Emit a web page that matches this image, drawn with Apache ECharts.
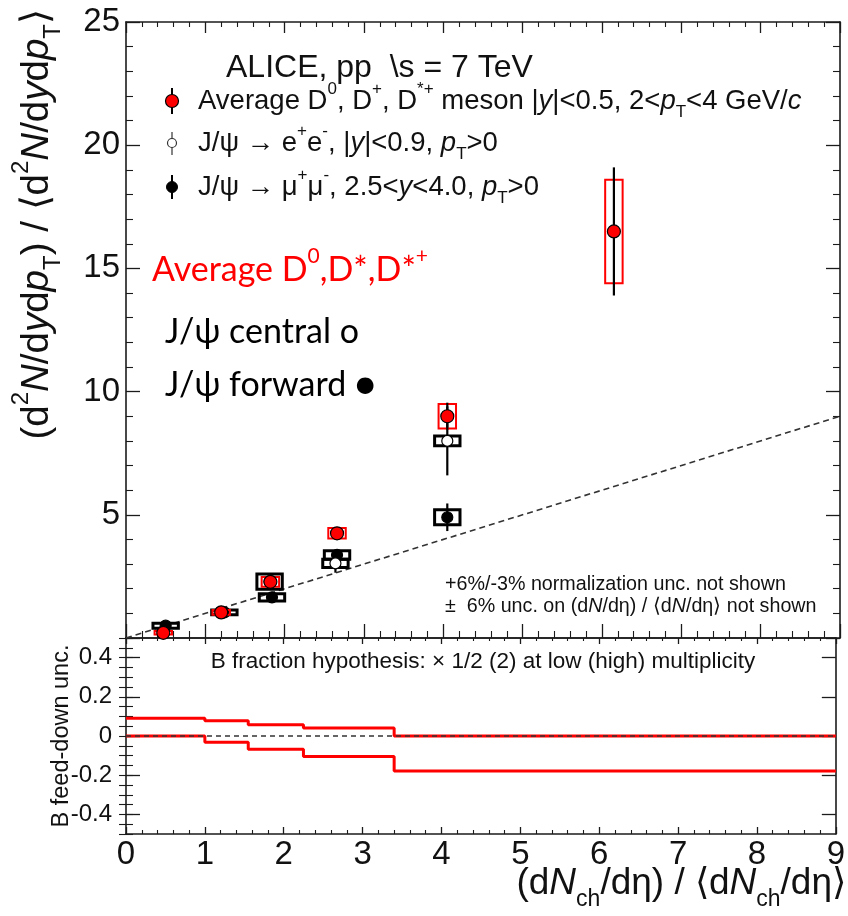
<!DOCTYPE html>
<html>
<head>
<meta charset="utf-8">
<script src="https://cdn.jsdelivr.net/npm/echarts@6/dist/echarts.min.js"></script>
<style>
  html, body { margin: 0; padding: 0; background: #fff; }
  #chart { width: 848px; height: 916px; }
</style>
</head>
<body>
<div id="chart"></div>
<script>
// ---- data: top panel (self-normalised yields vs multiplicity) ----
const dMesonX    = [0.47, 1.20, 1.82, 2.66, 4.05, 6.15];
const dMesonY    = [0.21, 1.04, 2.28, 4.25, 9.00, 16.5];
const dMesonStat = [0.05, 0.06, 0.10, 0.15, 0.55, 2.60];
const dMesonSyst = [0.07, 0.10, 0.20, 0.21, 0.50, 2.10];

const jpsiCentralX    = [1.81, 2.64, 4.05];
const jpsiCentralY    = [2.29, 3.03, 8.00];
const jpsiCentralStat = [0.25, 0.38, 1.40];
const jpsiCentralSyst = [0.31, 0.17, 0.20];

const jpsiForwardX    = [0.50, 1.24, 1.84, 2.66, 4.05];
const jpsiForwardY    = [0.50, 1.04, 1.65, 3.37, 4.90];
const jpsiForwardStat = [0.05, 0.06, 0.08, 0.15, 0.56];
const jpsiForwardSyst = [0.10, 0.10, 0.15, 0.17, 0.30];

// y = x reference (ends of the dashed line)
const unityRange = [0, 9];

// ---- data: bottom panel (B feed-down uncertainty band) ----
const feedDownEdges = [0, 1.0, 1.55, 2.25, 3.4, 9];
const feedDownUpper = [0.09, 0.078, 0.058, 0.041, 0.0];
const feedDownLower = [0.0, -0.032, -0.067, -0.104, -0.178];

// ---- tick labels ----
const topYTicks = [5, 10, 15, 20, 25];
const bottomYTicks = [-0.4, -0.2, 0, 0.2, 0.4];
const xTicks = [0, 1, 2, 3, 4, 5, 6, 7, 8, 9];

// ---- styling helpers ----
const NARROW = '"Liberation Sans Narrow", "Liberation Sans", Arial, sans-serif';
const SANS = '"Liberation Sans", Arial, sans-serif';
const CAL = 'Lato, "Open Sans", sans-serif';
const AXIS_COLOR = '#1b1b1b';

function rich(parts) {
  return parts.map(p => '{' + p[0] + '|' + p[1] + '}').join('');
}
function richStyles(size, family, color) {
  const lh = Math.round(size * 1.45);
  const small = Math.round(size * 0.62);
  return {
    n:   { fontSize: size, fontFamily: family, fill: color, lineHeight: lh, verticalAlign: 'middle' },
    i:   { fontSize: size, fontFamily: family, fill: color, lineHeight: lh, verticalAlign: 'middle', fontStyle: 'italic' },
    sup: { fontSize: small, fontFamily: family, fill: color, lineHeight: small, verticalAlign: 'top' },
    sub: { fontSize: small, fontFamily: family, fill: color, lineHeight: small, verticalAlign: 'bottom' }
  };
}
function textEl(x, y, parts, size, family, color, align, extra) {
  return Object.assign({
    type: 'text', x: x, y: y, z: 50,
    style: {
      text: rich(parts), rich: richStyles(size, family, color),
      textAlign: align || 'left', textVerticalAlign: 'middle'
    }
  }, extra || {});
}

function zip4(a, b, c, d) { return a.map((v, i) => [v, b[i], c[i], d[i]]); }

function pointRenderer(opt) {
  return function (params, api) {
    const x = api.value(0), y = api.value(1), stat = api.value(2), syst = api.value(3);
    const c = api.coord([x, y]);
    const p1 = api.coord([x - opt.halfWidth, y + syst]);
    const p2 = api.coord([x + opt.halfWidth, y - syst]);
    const top = api.coord([x, y + stat]);
    const bot = api.coord([x, y - stat]);
    return {
      type: 'group',
      children: [
        { type: 'rect', shape: { x: p1[0], y: p1[1], width: p2[0] - p1[0], height: p2[1] - p1[1] },
          style: { fill: 'none', stroke: opt.boxColor, lineWidth: opt.boxWidth } },
        { type: 'line', shape: { x1: c[0], y1: top[1], x2: c[0], y2: bot[1] },
          style: { stroke: '#000', lineWidth: 2.2 } },
        { type: 'circle', shape: { cx: c[0], cy: c[1], r: opt.r },
          style: { fill: opt.fill, stroke: '#000', lineWidth: 1.2 } }
      ]
    };
  };
}

function stepPoints(edges, values) {
  const pts = values.map((v, i) => [edges[i], v]);
  pts.push([edges[edges.length - 1], values[values.length - 1]]);
  return pts;
}

function xAxisCfg(grid, pos, major, minor, showLabel) {
  return {
    type: 'value', gridIndex: grid, position: pos, min: 0, max: 9, interval: 1,
    axisLine: { show: true, onZero: false, lineStyle: { color: AXIS_COLOR, width: 1.6 } },
    axisTick: { show: true, inside: true, length: major, lineStyle: { color: AXIS_COLOR, width: 1.3 } },
    minorTick: { show: true, splitNumber: 5, length: minor, lineStyle: { color: AXIS_COLOR, width: 1.1 } },
    splitLine: { show: false }, minorSplitLine: { show: false },
    axisLabel: showLabel ? {
      show: true, fontFamily: NARROW, fontSize: 33, color: '#111', margin: 4,
      customValues: xTicks
    } : { show: false }
  };
}

const chart = echarts.init(document.getElementById('chart'));

const option = {
  backgroundColor: '#ffffff',
  animation: false,
  grid: [
    { left: 126, top: 22, width: 714, height: 616 },
    { left: 126, top: 638, width: 714, height: 196 }
  ],
  xAxis: [
    xAxisCfg(0, 'bottom', 14, 7, false),
    xAxisCfg(0, 'top', 11, 5, false),
    xAxisCfg(1, 'bottom', 7, 4, true),
    xAxisCfg(1, 'top', 6, 3, false)
  ],
  yAxis: [
    {
      type: 'value', gridIndex: 0, position: 'left', min: 0, max: 25, interval: 5,
      axisLine: { show: true, onZero: false, lineStyle: { color: AXIS_COLOR, width: 1.6 } },
      axisTick: { show: true, inside: true, length: 14, lineStyle: { color: AXIS_COLOR, width: 1.3 } },
      minorTick: { show: true, splitNumber: 5, length: 7, lineStyle: { color: AXIS_COLOR, width: 1.1 } },
      splitLine: { show: false },
      axisLabel: { show: true, fontFamily: NARROW, fontSize: 33, color: '#111', margin: 6,
                   customValues: topYTicks }
    },
    {
      type: 'value', gridIndex: 0, position: 'right', min: 0, max: 25, interval: 5,
      axisLine: { show: true, onZero: false, lineStyle: { color: AXIS_COLOR, width: 1.6 } },
      axisTick: { show: true, inside: true, length: 14, lineStyle: { color: AXIS_COLOR, width: 1.3 } },
      minorTick: { show: true, splitNumber: 5, length: 7, lineStyle: { color: AXIS_COLOR, width: 1.1 } },
      splitLine: { show: false }, axisLabel: { show: false }
    },
    {
      type: 'value', gridIndex: 1, position: 'left', min: -0.5, max: 0.5,
      axisLine: { show: true, onZero: false, lineStyle: { color: AXIS_COLOR, width: 1.6 } },
      axisTick: { show: true, inside: true, length: 14, customValues: bottomYTicks,
                  lineStyle: { color: AXIS_COLOR, width: 1.3 } },
      splitLine: { show: false },
      axisLabel: { show: true, fontFamily: NARROW, fontSize: 24, color: '#111', margin: 14,
                   customValues: bottomYTicks,
                   formatter: v => (Math.abs(v) < 1e-9 ? '0' : String(Math.round(v * 10) / 10)) }
    },
    {
      type: 'value', gridIndex: 1, position: 'right', min: -0.5, max: 0.5,
      axisLine: { show: true, onZero: false, lineStyle: { color: AXIS_COLOR, width: 1.6 } },
      axisTick: { show: true, inside: true, length: 14, customValues: bottomYTicks,
                  lineStyle: { color: AXIS_COLOR, width: 1.3 } },
      splitLine: { show: false }, axisLabel: { show: false }
    },
    {
      type: 'value', gridIndex: 1, position: 'left', min: -0.5, max: 0.5, interval: 0.05,
      axisLine: { show: false }, splitLine: { show: false }, axisLabel: { show: false },
      axisTick: { show: true, inside: true, length: 7, lineStyle: { color: AXIS_COLOR, width: 1.1 } }
    },
    {
      type: 'value', gridIndex: 1, position: 'right', min: -0.5, max: 0.5, interval: 0.05,
      axisLine: { show: false }, splitLine: { show: false }, axisLabel: { show: false },
      axisTick: { show: true, inside: true, length: 7, lineStyle: { color: AXIS_COLOR, width: 1.1 } }
    }
  ],
  series: [
    {
      type: 'line', xAxisIndex: 0, yAxisIndex: 0, z: 2, symbol: 'none', silent: true,
      data: unityRange.map(v => [v, v]),
      lineStyle: { color: '#333', width: 1.6, type: [6, 4] }
    },
    {
      type: 'custom', xAxisIndex: 0, yAxisIndex: 0, z: 3, clip: false,
      data: zip4(jpsiForwardX, jpsiForwardY, jpsiForwardStat, jpsiForwardSyst),
      renderItem: pointRenderer({ halfWidth: 0.16, boxColor: '#000', boxWidth: 3, fill: '#000', r: 5.5 })
    },
    {
      type: 'custom', xAxisIndex: 0, yAxisIndex: 0, z: 4, clip: false,
      data: zip4(jpsiCentralX, jpsiCentralY, jpsiCentralStat, jpsiCentralSyst),
      renderItem: pointRenderer({ halfWidth: 0.16, boxColor: '#000', boxWidth: 3, fill: '#fff', r: 5.5 })
    },
    {
      type: 'custom', xAxisIndex: 0, yAxisIndex: 0, z: 5, clip: false,
      data: zip4(dMesonX, dMesonY, dMesonStat, dMesonSyst),
      renderItem: pointRenderer({ halfWidth: 0.11, boxColor: '#ff0000', boxWidth: 2, fill: '#ff0000', r: 6.5 })
    },
    {
      type: 'line', xAxisIndex: 2, yAxisIndex: 2, z: 3, symbol: 'none', silent: true,
      step: 'end', data: stepPoints(feedDownEdges, feedDownUpper),
      lineStyle: { color: '#ff0000', width: 3 }
    },
    {
      type: 'line', xAxisIndex: 2, yAxisIndex: 2, z: 3, symbol: 'none', silent: true,
      step: 'end', data: stepPoints(feedDownEdges, feedDownLower),
      lineStyle: { color: '#ff0000', width: 3 }
    },
    {
      type: 'line', xAxisIndex: 2, yAxisIndex: 2, z: 4, symbol: 'none', silent: true,
      data: unityRange.map(v => [v, 0]),
      lineStyle: { color: '#333', width: 1.4, type: [5, 4] }
    }
  ],
  graphic: [
    // y-axis title, top panel
    textEl(37, 9, [['n', '(d'], ['sup', '2'], ['i', 'N'], ['n', '/d'], ['i', 'y'], ['n', 'd'], ['i', 'p'], ['sub', 'T'],
                   ['n', ') / \u27E8d'], ['sup', '2'], ['i', 'N'], ['n', '/d'], ['i', 'y'], ['n', 'd'], ['i', 'p'], ['sub', 'T'], ['n', '\u27E9']],
           38.5, SANS, '#111', 'right', { rotation: Math.PI / 2 }),
    // x-axis title
    textEl(846, 884, [['n', '(d'], ['i', 'N'], ['sub', 'ch'], ['n', '/d\u03B7) / \u27E8d'], ['i', 'N'], ['sub', 'ch'], ['n', '/d\u03B7\u27E9']],
           37, NARROW, '#111', 'right'),
    // y-axis title, bottom panel
    textEl(62, 736, [['n', 'B feed-down unc.']], 23.5, SANS, '#111', 'center', { rotation: Math.PI / 2 }),
    // header and legend
    textEl(226, 68, [['n', 'ALICE, pp  \\s = 7 TeV']], 32, NARROW, '#111', 'left'),
    textEl(198, 101, [['n', 'Average D'], ['sup', '0'], ['n', ', D'], ['sup', '+'], ['n', ', D'], ['sup', '*+'],
                      ['n', ' meson |'], ['i', 'y'], ['n', '|<0.5, 2<'], ['i', 'p'], ['sub', 'T'], ['n', '<4 GeV/'], ['i', 'c']],
           27.5, NARROW, '#111', 'left'),
    textEl(198, 143, [['n', 'J/\u03C8 \u2192 e'], ['sup', '+'], ['n', 'e'], ['sup', '-'], ['n', ', |'], ['i', 'y'],
                      ['n', '|<0.9, '], ['i', 'p'], ['sub', 'T'], ['n', '>0']],
           27.5, NARROW, '#111', 'left'),
    textEl(198, 187, [['n', 'J/\u03C8 \u2192 \u03BC'], ['sup', '+'], ['n', '\u03BC'], ['sup', '-'], ['n', ', 2.5<'], ['i', 'y'],
                      ['n', '<4.0, '], ['i', 'p'], ['sub', 'T'], ['n', '>0']],
           27.5, NARROW, '#111', 'left'),
    // legend markers
    { type: 'line', z: 50, shape: { x1: 172, y1: 88, x2: 172, y2: 114 }, style: { stroke: '#000', lineWidth: 2 } },
    { type: 'circle', z: 51, shape: { cx: 172, cy: 101, r: 6.5 }, style: { fill: '#ff0000', stroke: '#000', lineWidth: 1.2 } },
    { type: 'line', z: 50, shape: { x1: 172, y1: 132, x2: 172, y2: 155 }, style: { stroke: '#333', lineWidth: 1.2 } },
    { type: 'circle', z: 51, shape: { cx: 172, cy: 143, r: 4.5 }, style: { fill: '#fff', stroke: '#333', lineWidth: 1.2 } },
    { type: 'line', z: 50, shape: { x1: 172, y1: 175, x2: 172, y2: 199 }, style: { stroke: '#000', lineWidth: 2 } },
    { type: 'circle', z: 51, shape: { cx: 172, cy: 187, r: 5.5 }, style: { fill: '#000', stroke: '#000', lineWidth: 1 } },
    // annotations
    textEl(152, 270, [['n', 'Average D'], ['sup', '0'], ['n', ',D*,D*'], ['sup', '+']], 34, CAL, '#ff0000', 'left'),
    textEl(165, 332, [['n', 'J/\u03C8 central o']], 34, CAL, '#000', 'left'),
    textEl(165, 385, [['n', 'J/\u03C8 forward \u25CF']], 34, CAL, '#000', 'left'),
    // notes
    textEl(445, 585, [['n', '+6%/-3% normalization unc. not shown']], 19.7, SANS, '#111', 'left'),
    textEl(445, 607, [['n', '\u00B1  6% unc. on (d'], ['i', 'N'], ['n', '/d\u03B7) / \u27E8d'], ['i', 'N'], ['n', '/d\u03B7\u27E9 not shown']],
           19.7, SANS, '#111', 'left'),
    textEl(483, 662, [['n', 'B fraction hypothesis: \u00D7 1/2 (2) at low (high) multiplicity']], 22.5, NARROW, '#111', 'center')
  ]
};

chart.setOption(option);
</script>
</body>
</html>
